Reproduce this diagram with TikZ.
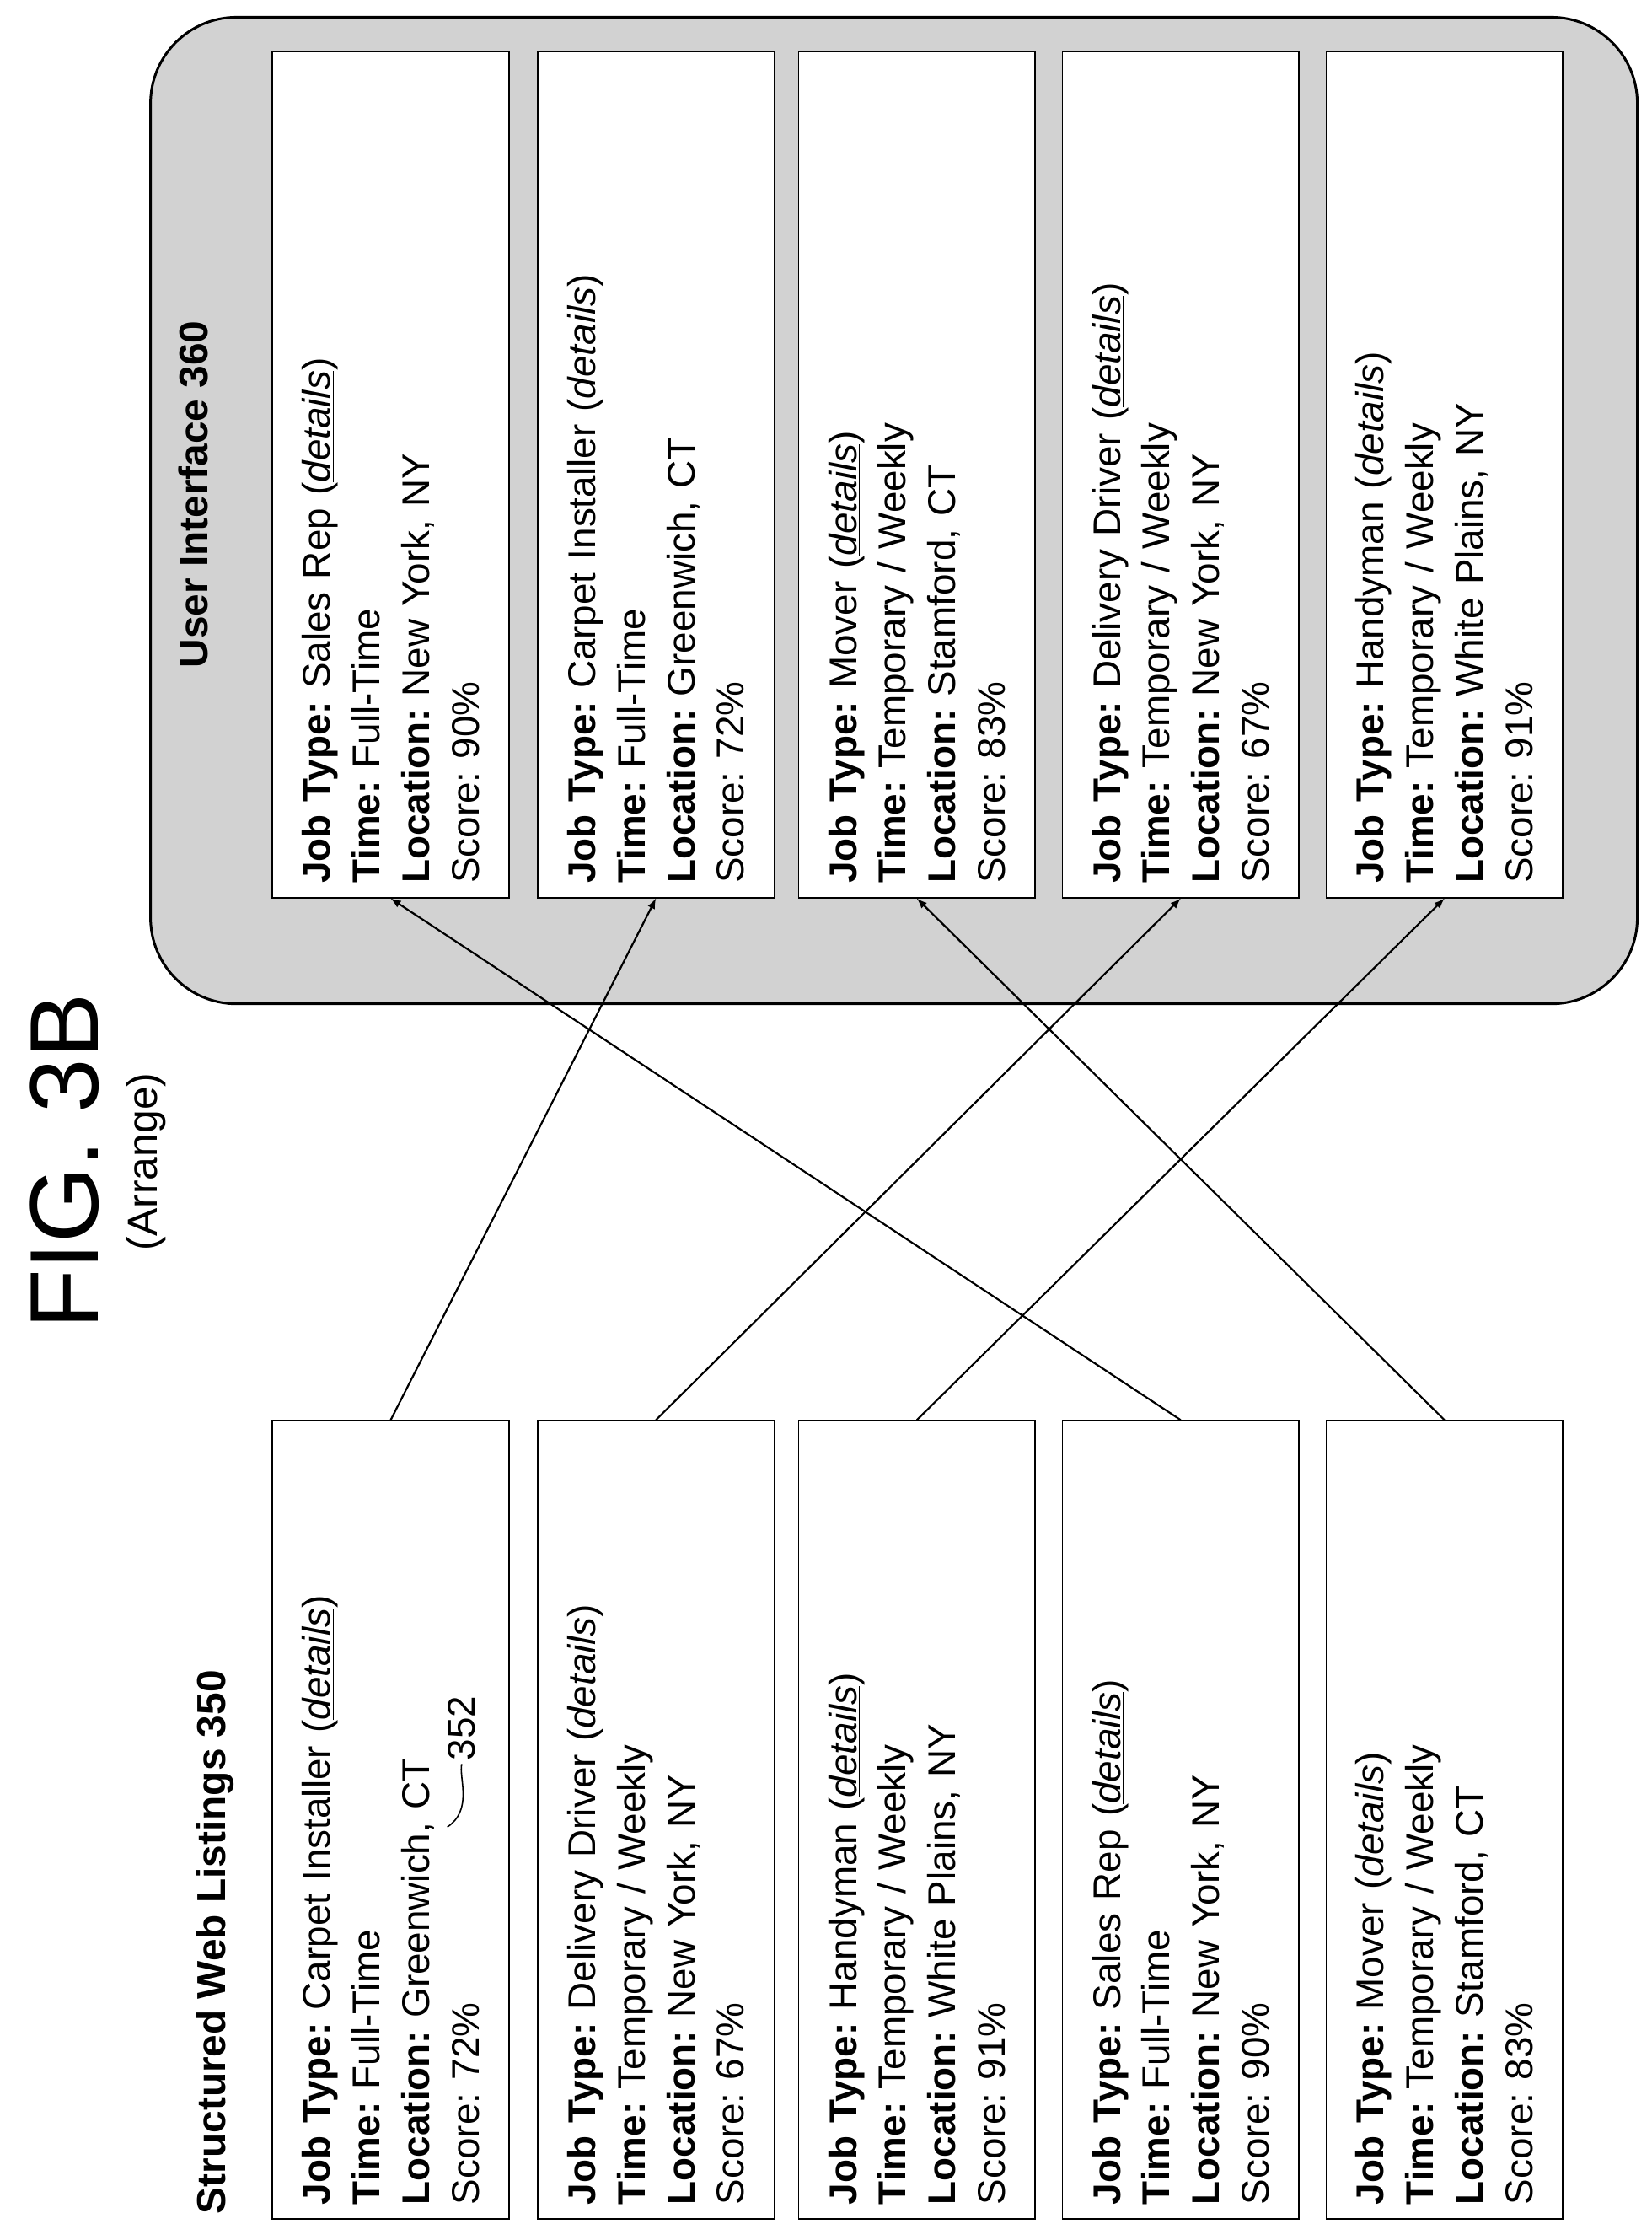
\documentclass[tikz,border=0pt]{standalone}
\usepackage{fontspec}
\setmainfont{Liberation Sans}
\usetikzlibrary{positioning}
\frenchspacing
\tikzstyle{listing}=[draw,fill=white,rotate=90,line width=0.8pt,minimum height=4.95cm,inner xsep=0.3cm,align=left,font=\fontsize{23}{29.5}\selectfont]
\tikzstyle{leftlisting}=[listing,text width=16.1cm]
\tikzstyle{rightlisting}=[listing,text width=17.1cm]
\tikzstyle{header}=[rotate=90,anchor=west,font=\bfseries\fontsize{24}{29}\selectfont]
\tikzstyle{link}=[-latex,line width=1.1pt]
\newcommand{\jobentry}[4]{\textbf{Job Type:} #1 (\underline{\textit{details}})\\\textbf{Time:} #2\\\textbf{Location:} #3\\Score: #4}
\begin{document}
\begin{tikzpicture}[x=0.03cm,y=-0.03cm]
\useasboundingbox (0,0) rectangle (1152,1562);
\draw[rounded corners=1.8cm,fill=gray!35,line width=1.5pt] (105,12) rectangle (1142,700);

\node[rotate=90,font=\fontsize{58}{60}\selectfont] (fig) at (45,810) {FIG. 3B};
\node[rotate=90,font=\fontsize{25}{28}\selectfont] (arr) at (102,810) {(Arrange)};

% structured web listings
\node[header] (hl) at (150,1548) {Structured Web Listings 350};
\node[leftlisting] (l1) at (272.5,1269) {\jobentry{Carpet Installer}{Full-Time}{Greenwich, CT}{72\%}};
\node[leftlisting] (l2) at (457.5,1269) {\jobentry{Delivery Driver}{Temporary / Weekly}{New York, NY}{67\%}};
\node[leftlisting] (l3) at (639.5,1269) {\jobentry{Handyman}{Temporary / Weekly}{White Plains, NY}{91\%}};
\node[leftlisting] (l4) at (823.5,1269) {\jobentry{Sales Rep}{Full-Time}{New York, NY}{90\%}};
\node[leftlisting] (l5) at (1007.5,1269) {\jobentry{Mover}{Temporary / Weekly}{Stamford, CT}{83\%}};

\coordinate (c1) at (312,1274);
\node[rotate=90,font=\fontsize{23}{28}\selectfont,inner sep=2pt] (ref) at (322,1205) {352};
\draw[line width=0.8pt] (c1) .. controls (330,1262) and (320,1240) .. (ref.west);

% user interface
\node[header] (hr) at (135,470) {User Interface 360};
\node[rightlisting] (r1) at (272.5,331) {\jobentry{Sales Rep}{Full-Time}{New York, NY}{90\%}};
\node[rightlisting] (r2) at (457.5,331) {\jobentry{Carpet Installer}{Full-Time}{Greenwich, CT}{72\%}};
\node[rightlisting] (r3) at (639.5,331) {\jobentry{Mover}{Temporary / Weekly}{Stamford, CT}{83\%}};
\node[rightlisting] (r4) at (823.5,331) {\jobentry{Delivery Driver}{Temporary / Weekly}{New York, NY}{67\%}};
\node[rightlisting] (r5) at (1007.5,331) {\jobentry{Handyman}{Temporary / Weekly}{White Plains, NY}{91\%}};

\draw[link] (l1.east) -- (r2.west);
\draw[link] (l2.east) -- (r4.west);
\draw[link] (l3.east) -- (r5.west);
\draw[link] (l4.east) -- (r1.west);
\draw[link] (l5.east) -- (r3.west);
\end{tikzpicture}
\end{document}
